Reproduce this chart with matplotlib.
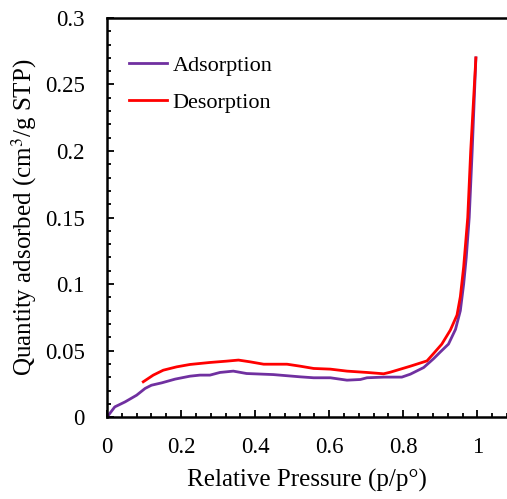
import numpy as np
import matplotlib.pyplot as plt
from matplotlib.ticker import MultipleLocator

plt.rcParams.update({
    'font.family': 'Liberation Serif',
    'font.size': 16.5,
    'mathtext.fontset': 'stix',
})

# adsorption branch
p_ads = [0.0, 0.021, 0.049, 0.08, 0.103, 0.12, 0.148, 0.184, 0.224, 0.251, 0.278,
         0.305, 0.341, 0.377, 0.449, 0.522, 0.558, 0.603, 0.648, 0.684, 0.702,
         0.747, 0.796, 0.819, 0.855, 0.882, 0.9, 0.922, 0.941, 0.954, 0.963,
         0.97, 0.978, 0.986, 0.996]
q_ads = [0.0, 0.0077, 0.0115, 0.0165, 0.0216, 0.024, 0.0258, 0.0286, 0.0308, 0.0316, 0.0316,
         0.0336, 0.0346, 0.0328, 0.032, 0.0303, 0.0296, 0.0296, 0.0278, 0.0283, 0.0296,
         0.0301, 0.0301, 0.0323, 0.0373, 0.044, 0.049, 0.0549, 0.066, 0.08, 0.1,
         0.12, 0.15, 0.2, 0.27]

# desorption branch
p_des = [0.098, 0.125, 0.152, 0.188, 0.224, 0.278, 0.323, 0.355, 0.386, 0.423, 0.486,
         0.522, 0.558, 0.603, 0.648, 0.702, 0.747, 0.765, 0.819, 0.864, 0.882,
         0.904, 0.927, 0.945, 0.954, 0.963, 0.974, 0.982, 0.996]
q_des = [0.0266, 0.0316, 0.0353, 0.0378, 0.0396, 0.0411, 0.0421, 0.0429, 0.0416, 0.0398, 0.0398,
         0.0383, 0.0366, 0.0361, 0.0346, 0.0336, 0.0326, 0.0338, 0.0383, 0.0423, 0.0479,
         0.0549, 0.0654, 0.0767, 0.0905, 0.113, 0.15, 0.2, 0.27]

fig = plt.figure(figsize=(5.07, 4.99), dpi=100)
ax = fig.add_axes([0.211, 0.164, 0.789, 0.8])

ax.plot(p_ads, q_ads, color='#7030A0', lw=2, label='Adsorption')
ax.plot(p_des, q_des, color='#FF0000', lw=2, label='Desorption')

ax.set_xlim(0, 1.08)
ax.set_ylim(0, 0.3)
ax.xaxis.set_minor_locator(MultipleLocator(0.04))
ax.yaxis.set_minor_locator(MultipleLocator(0.01))
ax.set_xticks([0, 0.2, 0.4, 0.6, 0.8, 1.0])
ax.set_xticklabels(['0', '0.2', '0.4', '0.6', '0.8', '1'])
ax.set_yticks([0, 0.05, 0.1, 0.15, 0.2, 0.25, 0.3])
ax.set_yticklabels(['0', '0.05', '0.1', '0.15', '0.2', '0.25', '0.3'])
ax.tick_params(which='major', direction='in', length=5, width=1.3, pad=14)
ax.tick_params(which='minor', direction='in', length=3, width=1.3)
ax.tick_params(axis='y', which='major', pad=16)

for s in ['left', 'bottom', 'top']:
    ax.spines[s].set_linewidth(1.8)
ax.spines['right'].set_visible(False)

ax.set_xlabel('Relative Pressure (p/p°)', fontsize=18, labelpad=8)
ax.set_ylabel('Quantity adsorbed (cm$^3$/g STP)', fontsize=18, labelpad=4)

ax.legend(loc='upper left', bbox_to_anchor=(0.0, 0.963), frameon=False, fontsize=16,
          handlelength=1.7, handletextpad=0.25, labelspacing=0.75, borderaxespad=0.6)

fig.savefig('out.png', dpi=100)
